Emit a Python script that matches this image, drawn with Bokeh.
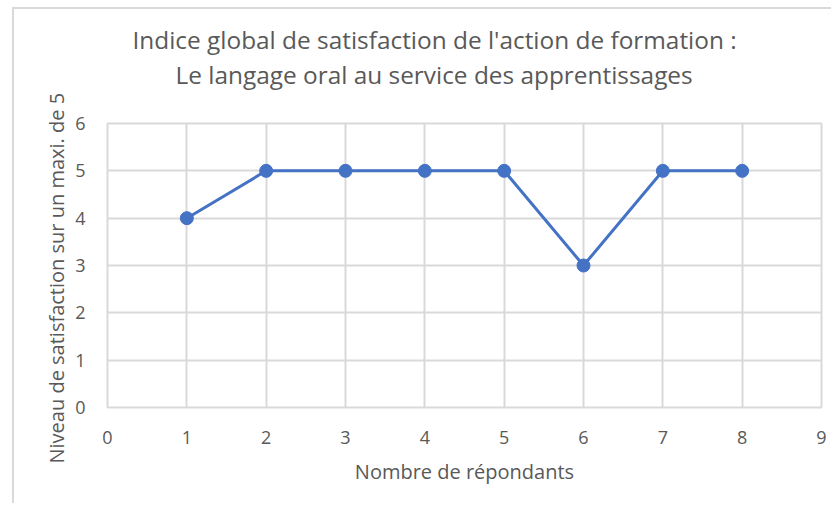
from bokeh.plotting import figure
from bokeh.models import Range1d, FixedTicker, Title, ColumnDataSource
from bokeh.embed import file_html
from bokeh.resources import INLINE

# Data
respondents = [1, 2, 3, 4, 5, 6, 7, 8]
satisfaction = [4, 5, 5, 5, 5, 3, 5, 5]
x_ticks = [0, 1, 2, 3, 4, 5, 6, 7, 8, 9]
y_ticks = [0, 1, 2, 3, 4, 5, 6]
title_line1 = "Indice global de satisfaction de l'action de formation :"
title_line2 = "Le langage oral au service des apprentissages"
x_label = "Nombre de répondants"
y_label = "Niveau de satisfaction sur un maxi. de 5"

FONT = "Open Sans"
GRAY_TEXT = "#595959"
GRID = "#d9d9d9"
BLUE = "#4472C4"

p = figure(width=819, height=496, output_backend="svg", toolbar_location=None,
           x_range=Range1d(0, 9), y_range=Range1d(0, 6),
           min_border_left=93, min_border_right=12, min_border_top=114, min_border_bottom=98,
           styles={"border-left": "2px solid #d9d9d9", "border-top": "2px solid #d9d9d9",
                   "margin-left": "12px", "margin-top": "7px"})
p.title = None
p.outline_line_color = GRID
p.outline_line_width = 2
p.background_fill_color = "white"
p.border_fill_color = "white"

# Titles: first added sits closest to the plot area
spacer = Title(text=" ", text_font_size="1px", standoff=30)
t2 = Title(text=title_line2, align="left", offset=68, text_font=FONT, text_font_size="24.4px",
           text_color=GRAY_TEXT, text_font_style="normal", standoff=0)
t1 = Title(text=title_line1, align="left", offset=25, text_font=FONT, text_font_size="24.4px",
           text_color=GRAY_TEXT, text_font_style="normal", standoff=0)
p.add_layout(spacer, "above")
p.add_layout(t2, "above")
p.add_layout(t1, "above")

for ax, ticks in ((p.xaxis, x_ticks), (p.yaxis, y_ticks)):
    ax.ticker = FixedTicker(ticks=ticks)
    ax.axis_line_color = None
    ax.major_tick_line_color = None
    ax.minor_tick_line_color = None
    ax.major_label_text_font = FONT
    ax.major_label_text_font_size = "18px"
    ax.major_label_text_color = GRAY_TEXT

p.yaxis.major_label_standoff = 16
p.xaxis.major_label_standoff = 17

p.xaxis.axis_label = x_label
p.xaxis.axis_label_text_font = FONT
p.xaxis.axis_label_text_font_size = "20px"
p.xaxis.axis_label_text_color = GRAY_TEXT
p.xaxis.axis_label_text_font_style = "normal"
p.xaxis.axis_label_standoff = 11

# Y-axis title as a vertical title on the left side
ytitle = Title(text=y_label, align="left", offset=-56, text_font=FONT, text_font_size="20px",
               text_color=GRAY_TEXT, text_font_style="normal", standoff=6)
p.add_layout(ytitle, "left")

p.xgrid.grid_line_color = GRID
p.ygrid.grid_line_color = GRID
p.xgrid.grid_line_width = 2
p.ygrid.grid_line_width = 2

src = ColumnDataSource(dict(x=respondents, y=satisfaction))
p.line("x", "y", source=src, line_color=BLUE, line_width=3)
p.scatter("x", "y", source=src, size=13, fill_color=BLUE, line_color=BLUE)

open("out.html", "w").write(file_html(p, INLINE))
